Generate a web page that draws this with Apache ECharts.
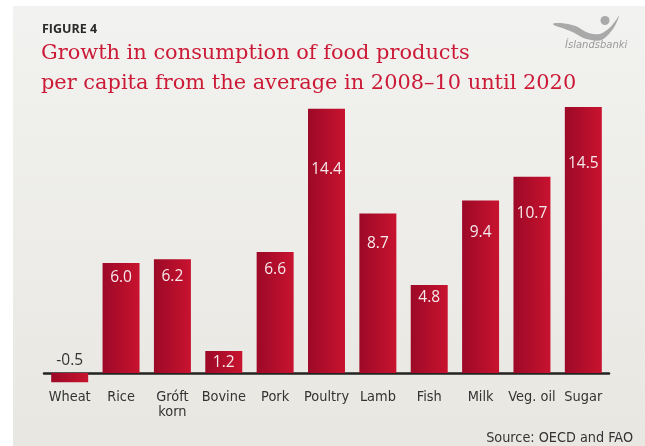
<!DOCTYPE html>
<html>
<head>
<meta charset="utf-8">
<script src="https://cdn.jsdelivr.net/npm/echarts@6/dist/echarts.min.js"></script>
<style>
html,body{margin:0;padding:0;background:#fff;}
#chart{width:645px;height:446px;}
</style>
</head>
<body>
<div id="chart"></div>
<script>
const categories = ['Wheat', 'Rice', 'Gróft\nkorn', 'Bovine', 'Pork', 'Poultry', 'Lamb', 'Fish', 'Milk', 'Veg. oil', 'Sugar'];
const values = [-0.5, 6.0, 6.2, 1.2, 6.6, 14.4, 8.7, 4.8, 9.4, 10.7, 14.5];
const figureLabel = 'FIGURE 4';
const titleLines = ['Growth in consumption of food products', 'per capita from the average in 2008–10 until 2020'];
const sourceText = 'Source: OECD and FAO';
const logoText = 'Íslandsbanki';

// layout: how far below the bar top each value label sits (px, label centre)
const labelDrop = [0, 15, 17, 12, 18, 61, 30, 13, 32, 37, 57];

const condensed = '"DejaVu Sans Condensed", sans-serif';

const chart = echarts.init(document.getElementById('chart'), null, {renderer: 'canvas'});

const barColor = new echarts.graphic.LinearGradient(0, 0, 1, 0, [
  {offset: 0, color: '#9c0927'},
  {offset: 1, color: '#c8132f'}
]);

const seriesData = values.map((v, i) => {
  if (v < 0) {
    return {value: v, label: {show: true, position: 'top', distance: 4, color: '#333'}};
  }
  return {value: v, label: {show: true, position: 'insideTop', distance: labelDrop[i] - 8, color: '#f6e9eb'}};
});

const option = {
  backgroundColor: '#ffffff',
  animation: false,
  graphic: {elements: [
    {type: 'rect', z: -100, shape: {x: 13, y: 6, width: 632, height: 440},
      style: {fill: new echarts.graphic.LinearGradient(0, 0, 0, 1, [
        {offset: 0, color: '#f2f2f0'}, {offset: 1, color: '#e8e7e2'}])}},
    {type: 'text', x: 42, y: 29, z: 10,
      style: {text: figureLabel, fill: '#2a2a2a', font: 'bold 12.5px "Open Sans", sans-serif', verticalAlign: 'middle'}},
    {type: 'text', x: 41, y: 54, z: 10,
      style: {text: titleLines[0], fill: '#cc1a36', font: '20.9px "DejaVu Serif", serif', verticalAlign: 'middle'}},
    {type: 'text', x: 41, y: 84, z: 10,
      style: {text: titleLines[1], fill: '#cc1a36', font: '20.9px "DejaVu Serif", serif', verticalAlign: 'middle'}},
    {type: 'text', x: 633, y: 438, z: 10,
      style: {text: sourceText, fill: '#333', font: '14.3px ' + condensed, textAlign: 'right', verticalAlign: 'middle'}},
    {type: 'polygon', z: 10, shape: {smooth: 0.5, points: [[553,24],[572,25],[593,34],[607,30],[619,16],[606,37],[591,40],[570,31]]},
      style: {fill: '#a9a9a9'}},
    {type: 'circle', z: 10, shape: {cx: 605, cy: 20.5, r: 4.5}, style: {fill: '#a9a9a9'}},
    {type: 'text', x: 565, y: 45, z: 10,
      style: {text: logoText, fill: '#9a9a9a', font: 'italic 10px "DejaVu Sans", sans-serif', verticalAlign: 'middle'}}
  ]},
  grid: {left: 44, right: 36, top: 79.4, bottom: 54.6, containLabel: false},
  xAxis: {
    type: 'category',
    data: categories,
    axisLine: {onZero: true, lineStyle: {color: '#222', width: 2.5}},
    axisTick: {show: false},
    axisLabel: {color: '#333', fontFamily: condensed, fontSize: 14.4, margin: -2, lineHeight: 15, interval: 0}
  },
  yAxis: {
    type: 'value', min: -1, max: 16, show: false,
    splitLine: {show: false}
  },
  series: [{
    type: 'bar',
    data: seriesData,
    barCategoryGap: '28%',
    itemStyle: {color: barColor},
    label: {show: true, fontFamily: '"Open Sans", sans-serif', fontSize: 15.5,
      formatter: p => p.value.toFixed(1)}
  }]
};
chart.setOption(option);
</script>
</body>
</html>
